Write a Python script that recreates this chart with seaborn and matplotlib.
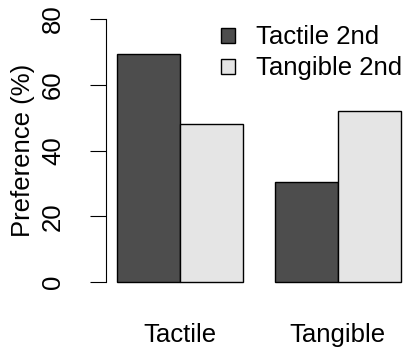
import pandas as pd
import matplotlib
matplotlib.use("Agg")
import matplotlib.pyplot as plt
import seaborn as sns
from matplotlib.patches import Patch

conditions = ["Tactile", "Tangible"]
orders = ["Tactile 2nd", "Tangible 2nd"]
tactile_2nd = [69.5, 30.5]
tangible_2nd = [48, 52]
colors = ["#4d4d4d", "#e5e5e5"]

df = pd.DataFrame({
    "condition": conditions * 2,
    "order": [orders[0]] * 2 + [orders[1]] * 2,
    "value": tactile_2nd + tangible_2nd,
})

sns.set_style("white")
plt.rcParams["font.family"] = ["Liberation Sans", "DejaVu Sans"]
plt.rcParams["text.color"] = "black"
plt.rcParams["axes.labelcolor"] = "black"
plt.rcParams["xtick.color"] = "black"
plt.rcParams["ytick.color"] = "black"
fs = 18.5

W, H = 409, 350
fig = plt.figure(figsize=(W / 100, H / 100), dpi=100)
# axes in pixel terms: x 106..411.6, y 8.5..292.5 (from top)
ax = fig.add_axes([106 / W, (H - 292.5) / H, 305.6 / W, 284 / H])

sns.barplot(data=df, x="condition", y="value", hue="order", order=conditions,
            hue_order=orders, palette=colors, edgecolor="black", linewidth=1,
            width=0.8, ax=ax, legend=False)

ax.set_xlim(-0.47, 1.47)
ax.set_ylim(-3.2, 83.2)
for s in ["top", "right", "bottom"]:
    ax.spines[s].set_visible(False)
ax.spines["left"].set_bounds(0, 80)
ax.spines["left"].set_linewidth(0.8)
ax.spines["left"].set_color("black")

ax.set_yticks([0, 20, 40, 60, 80])
ax.tick_params(axis="y", length=11.5, width=0.8, color="black", pad=18,
               labelsize=fs, left=True)
for t in ax.get_yticklabels():
    t.set_rotation(90)
    t.set_va("center")
ax.tick_params(axis="x", length=0, pad=22, labelsize=fs)

ax.set_xlabel("")
ax.set_ylabel("Preference (%)", fontsize=fs)
ax.yaxis.set_label_coords(-0.233, 0.5)

handles = [Patch(facecolor=c, edgecolor="black", linewidth=1) for c in colors]
ax.legend(handles, orders, loc="upper left", bbox_to_anchor=(221 / W, 1 - 25.5 / H),
          bbox_transform=fig.transFigure, frameon=False, fontsize=fs,
          handlelength=0.56, handleheight=0.56, handletextpad=0.8,
          labelspacing=0.27, borderpad=0, borderaxespad=0)

fig.savefig("out.png", dpi=100)
